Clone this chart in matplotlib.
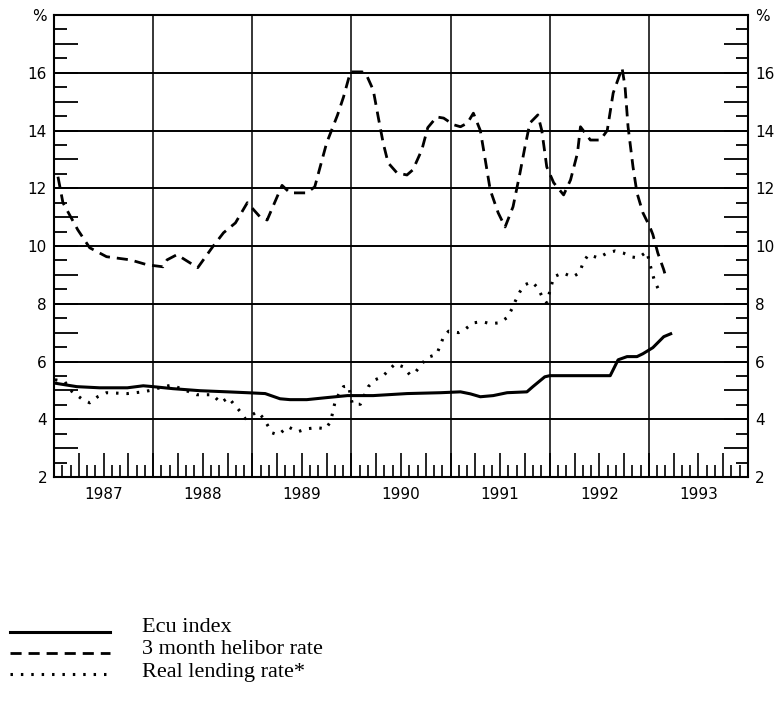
import matplotlib.pyplot as plt
import numpy as np
from matplotlib.lines import Line2D
from matplotlib.ticker import FixedLocator, FuncFormatter

# Ecu index (solid)
ecu_x = [1987.01, 1987.23, 1987.46, 1987.74, 1987.90, 1988.00, 1988.20, 1988.47, 1988.75,
         1988.95, 1989.13, 1989.28, 1989.38, 1989.55, 1989.75, 1989.96, 1990.22, 1990.56,
         1990.90, 1991.10, 1991.20, 1991.30, 1991.43, 1991.57, 1991.77, 1991.83, 1991.95,
         1992.00, 1992.34, 1992.61, 1992.69, 1992.78, 1992.88, 1992.94, 1993.04, 1993.15, 1993.22]
ecu_y = [5.25, 5.13, 5.09, 5.09, 5.16, 5.13, 5.06, 4.99, 4.95,
         4.92, 4.89, 4.71, 4.68, 4.68, 4.75, 4.82, 4.82, 4.89,
         4.92, 4.95, 4.88, 4.78, 4.82, 4.92, 4.95, 5.13, 5.47,
         5.51, 5.51, 5.51, 6.06, 6.17, 6.17, 6.27, 6.48, 6.86, 6.96]

# 3 month helibor rate (dashed)
hel_x = [1987.04, 1987.09, 1987.24, 1987.36, 1987.53, 1987.77, 1987.94, 1988.10, 1988.14,
         1988.24, 1988.37, 1988.45, 1988.60, 1988.71, 1988.83, 1988.95, 1989.08, 1989.15,
         1989.30, 1989.38, 1989.55, 1989.63, 1989.75, 1989.86, 1989.92, 1989.99, 1990.11,
         1990.16, 1990.22, 1990.27, 1990.32, 1990.37, 1990.46, 1990.56, 1990.62, 1990.71,
         1990.77, 1990.86, 1990.93, 1991.03, 1991.10, 1991.17, 1991.23, 1991.30, 1991.35,
         1991.40, 1991.48, 1991.55, 1991.63, 1991.70, 1991.75, 1991.80, 1991.88, 1991.92,
         1991.97, 1992.04, 1992.14, 1992.21, 1992.28, 1992.31, 1992.41, 1992.51, 1992.58,
         1992.64, 1992.73, 1992.76, 1992.79, 1992.84, 1992.88, 1992.94, 1993.01, 1993.04,
         1993.09, 1993.15, 1993.17]
hel_y = [12.4, 11.5, 10.56, 9.94, 9.63, 9.52, 9.35, 9.28, 9.52,
         9.7, 9.42, 9.25, 9.97, 10.46, 10.8, 11.5, 11.0, 10.9,
         12.1, 11.84, 11.84, 12.05, 13.57, 14.54, 15.16, 16.03, 16.03,
         15.86, 15.4, 14.47, 13.57, 12.88, 12.53, 12.46, 12.64, 13.33,
         14.1, 14.47, 14.43, 14.2, 14.13, 14.26, 14.6, 14.0, 12.98,
         11.94, 11.15, 10.66, 11.36, 12.53, 13.43, 14.26, 14.54, 14.0,
         12.74, 12.19, 11.77, 12.29, 13.22, 14.13, 13.67, 13.67, 14.0,
         15.3, 16.16, 15.5, 14.13, 12.74, 11.84, 11.15, 10.66, 10.4,
         9.76, 9.18, 8.94]

# Real lending rate (dotted)
real_x = [1987.01, 1987.11, 1987.16, 1987.29, 1987.36, 1987.44, 1987.53, 1987.74, 1987.90,
          1988.00, 1988.10, 1988.19, 1988.44, 1988.60, 1988.68, 1988.76, 1988.81, 1988.88,
          1988.93, 1989.05, 1989.11, 1989.20, 1989.26, 1989.36, 1989.46, 1989.55, 1989.65,
          1989.74, 1989.79, 1989.84, 1989.92, 1989.97, 1990.01, 1990.09, 1990.17, 1990.24,
          1990.31, 1990.44, 1990.52, 1990.59, 1990.64, 1990.76, 1990.86, 1990.93, 1990.98,
          1991.08, 1991.15, 1991.23, 1991.32, 1991.40, 1991.49, 1991.57, 1991.62, 1991.65,
          1991.70, 1991.75, 1991.82, 1991.88, 1991.93, 1991.97, 1992.00, 1992.04, 1992.13,
          1992.23, 1992.30, 1992.34, 1992.39, 1992.49, 1992.58, 1992.66, 1992.74, 1992.83,
          1992.89, 1992.98, 1993.03, 1993.06, 1993.10]
real_y = [5.37, 5.3, 5.02, 4.68, 4.57, 4.78, 4.92, 4.89, 4.95,
          5.02, 5.13, 5.18, 4.85, 4.85, 4.57, 4.75, 4.54, 4.26,
          4.02, 4.26, 4.05, 3.53, 3.46, 3.74, 3.57, 3.67, 3.71,
          3.67, 3.92, 4.68, 5.13, 5.16, 4.52, 4.52, 5.13, 5.37,
          5.47, 5.92, 5.82, 5.54, 5.61, 6.13, 6.25, 6.86, 7.05,
          7.0, 7.13, 7.34, 7.38, 7.31, 7.34, 7.52, 7.83, 8.07,
          8.42, 8.66, 8.76, 8.55, 8.2, 8.03, 8.42, 8.93, 9.07,
          8.93, 9.07, 9.45, 9.7, 9.59, 9.76, 9.83, 9.76, 9.62,
          9.59, 9.8, 9.11, 8.76, 8.48]

labels = ['Ecu index', '3 month helibor rate', 'Real lending rate*']
years = [1987, 1988, 1989, 1990, 1991, 1992, 1993]

W, H = 777, 701
fig = plt.figure(figsize=(W / 100, H / 100), dpi=100)
ax = fig.add_axes([0.0695, 0.3195, 0.8932, 0.6591])

# grid
for yy in range(4, 18, 2):
    ax.axhline(yy, color='black', lw=1.4, zorder=1)
for yr in years[1:]:
    ax.axvline(yr, color='black', lw=1.1, zorder=1)

styles = [dict(lw=2.2, ls='-'),
          dict(lw=2.0, ls=(0, (4, 2.5))),
          dict(lw=2.2, ls=(0, (0.8, 2.6)))]

ax.plot(ecu_x, ecu_y, color='black', zorder=3, **styles[0])
ax.plot(hel_x, hel_y, color='black', zorder=3, **styles[1])
ax.plot(real_x, real_y, color='black', zorder=3, **styles[2])

ax.set_xlim(1987, 1994)
ax.set_ylim(2, 18)

for s in ax.spines.values():
    s.set_linewidth(1.5)

# y ticks: integers (odd long), halves short
ax.yaxis.set_major_locator(FixedLocator(np.arange(2, 19, 1)))
ax.yaxis.set_minor_locator(FixedLocator(np.arange(2.5, 18, 1)))


def yfmt(v, pos):
    v = int(round(v))
    if v == 18:
        return '%'
    if v % 2 == 0:
        return str(v)
    return ''


ax.yaxis.set_major_formatter(FuncFormatter(yfmt))
ax.tick_params(axis='y', which='major', direction='in', length=17, width=1.3,
               left=True, right=True, labelleft=True, labelright=True, labelsize=11, pad=5)
ax.tick_params(axis='y', which='minor', direction='in', length=9, width=1.3,
               left=True, right=True)

# x ticks: quarters long, months short
ax.xaxis.set_major_locator(FixedLocator(np.arange(1987, 1994.01, 0.25)))
ax.xaxis.set_minor_locator(FixedLocator(np.arange(1987, 1994.01, 1 / 12)))


def xfmt(v, pos):
    if abs(v - np.floor(v) - 0.5) < 1e-6:
        return str(int(np.floor(v)))
    return ''


ax.xaxis.set_major_formatter(FuncFormatter(xfmt))
ax.tick_params(axis='x', which='major', direction='in', length=17, width=1.2,
               labelsize=11, pad=7)
ax.tick_params(axis='x', which='minor', direction='in', length=8.5, width=1.2)

# legend drawn by hand below the chart
line_rows = [632, 653, 674]
text_rows = [627, 650, 673]
for i in range(3):
    yl = 1 - line_rows[i] / H
    fig.add_artist(Line2D([10 / W, 110 / W], [yl, yl], transform=fig.transFigure,
                          color='black', **styles[i]))
    fig.text(142 / W, 1 - text_rows[i] / H, labels[i], ha='left', va='center',
             family='Liberation Serif', fontsize=16)

fig.savefig('out.png', dpi=100)
